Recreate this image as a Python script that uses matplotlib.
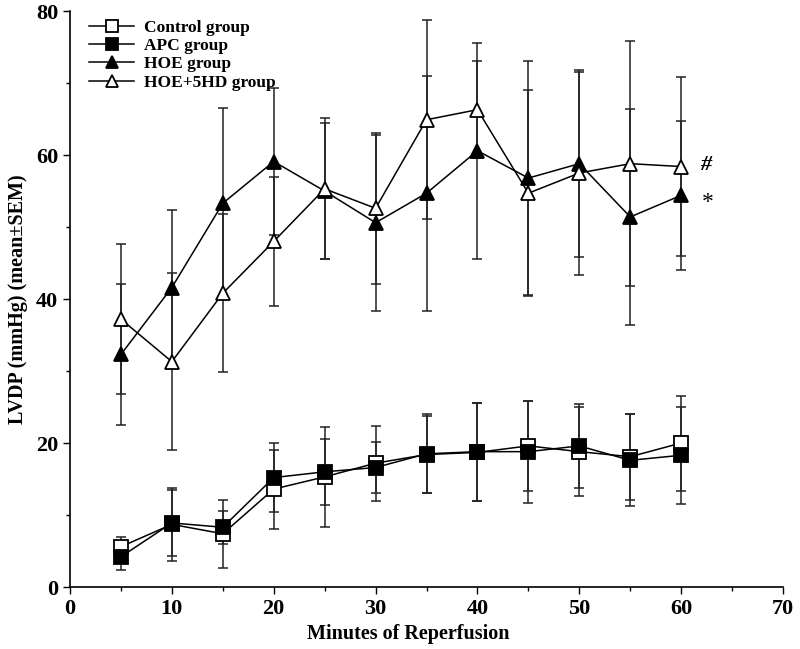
import matplotlib
matplotlib.use("Agg")
import matplotlib.pyplot as plt
from matplotlib.ticker import MultipleLocator

time = [5, 10, 15, 20, 25, 30, 35, 40, 45, 50, 55, 60]
control = [5.6, 8.7, 7.4, 13.6, 15.3, 17.2, 18.4, 18.7, 19.6, 18.8, 18.1, 20.0]
control_sem = [1.4, 5.1, 4.7, 5.5, 6.9, 5.2, 5.4, 6.8, 6.3, 6.2, 6.0, 6.6]
apc = [4.2, 8.9, 8.3, 15.2, 16.0, 16.6, 18.5, 18.8, 18.8, 19.6, 17.6, 18.3]
apc_sem = [1.8, 4.6, 2.3, 4.8, 4.6, 3.6, 5.5, 6.8, 7.1, 5.8, 6.4, 6.7]
hoe = [32.3, 41.6, 53.3, 59.1, 55.0, 50.6, 54.7, 60.6, 56.8, 58.8, 51.4, 54.4]
hoe_sem = [9.8, 10.8, 13.3, 10.2, 9.5, 12.2, 16.3, 15.0, 16.2, 13.0, 15.0, 10.3]
hoe5hd = [37.2, 31.3, 40.8, 48.0, 55.3, 52.6, 64.9, 66.3, 54.7, 57.5, 58.8, 58.4]
hoe5hd_sem = [10.4, 12.3, 11.0, 9.0, 9.8, 10.5, 13.8, 6.7, 14.3, 14.1, 17.0, 12.4]
labels = ["Control group", "APC group", "HOE group", "HOE+5HD group"]

plt.rcParams['font.family'] = ['Liberation Serif', 'DejaVu Serif']
plt.rcParams['font.weight'] = 'bold'

fig = plt.figure(figsize=(8.0, 6.49), dpi=100)
ax = fig.add_axes([0.0875, 0.0955, 0.8913, 0.8875])

ebkw = dict(ecolor='#222222', elinewidth=1.1, capsize=3.5, capthick=1.1, zorder=1)
series = [
    (control, control_sem, 's', 'white', 10),
    (apc, apc_sem, 's', 'black', 10),
    (hoe, hoe_sem, '^', 'black', 10),
    (hoe5hd, hoe5hd_sem, '^', 'white', 10),
]
for (vals, sem, mk, fc, ms) in series:
    ax.errorbar(time, vals, yerr=sem, fmt='none', **ebkw)
handles = []
for (vals, sem, mk, fc, ms), lab in zip(series, labels):
    h, = ax.plot(time, vals, color='black', lw=1.1, marker=mk, markersize=ms,
                 markerfacecolor=fc, markeredgecolor='black', markeredgewidth=1.3,
                 label=lab, zorder=3)
    handles.append(h)

ax.text(62.4, 58.6, '#', fontsize=16, ha='center', va='center', style='italic')
ax.text(62.6, 53.4, '*', fontsize=17, ha='center', va='center', fontweight='normal')

ax.set_xlim(0, 70)
ax.set_ylim(0, 80)
ax.xaxis.set_major_locator(MultipleLocator(10))
ax.xaxis.set_minor_locator(MultipleLocator(5))
ax.yaxis.set_major_locator(MultipleLocator(20))
ax.yaxis.set_minor_locator(MultipleLocator(10))
ax.tick_params(which='major', direction='out', length=5, width=1, labelsize=16)
ax.tick_params(which='minor', direction='out', length=3, width=1)
for s in ['top', 'right']:
    ax.spines[s].set_visible(False)
for s in ['left', 'bottom']:
    ax.spines[s].set_linewidth(1.2)
for lbl in ax.get_xticklabels() + ax.get_yticklabels():
    lbl.set_fontweight('bold')

ax.set_xlabel('Minutes of Reperfusion', fontsize=14.5, fontweight='bold', labelpad=5)
ax.xaxis.set_label_coords(0.475, -0.065)
ax.set_ylabel('LVDP (mmHg) (mean±SEM)', fontsize=14.5, fontweight='bold', labelpad=6)

leg = ax.legend(handles=handles, loc='upper left', bbox_to_anchor=(0.005, 1.012),
                frameon=False, fontsize=12.5, handlelength=2.6, handletextpad=0.55,
                labelspacing=0.12, markerscale=0.85)
for t in leg.get_texts():
    t.set_fontweight('bold')

fig.savefig('out.png', dpi=100)
